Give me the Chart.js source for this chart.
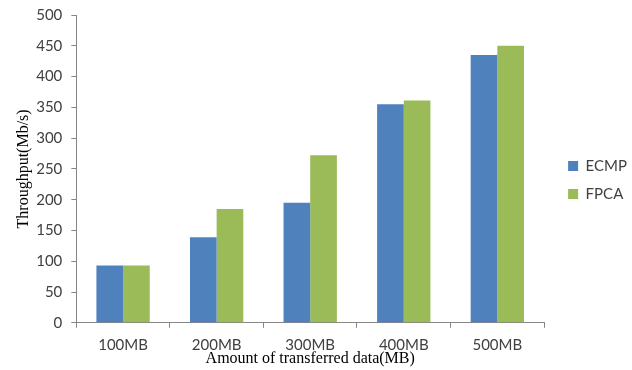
<!DOCTYPE html>
<html>
<head>
<meta charset="utf-8">
<script src="https://cdn.jsdelivr.net/npm/chart.js@4"></script>
<style>
  html, body { margin: 0; padding: 0; background: #fff; }
  #wrap { width: 632px; height: 370px; }
</style>
</head>
<body>
<div id="wrap"><canvas id="grafica"></canvas></div>
<script>
const categorias = ['100MB', '200MB', '300MB', '400MB', '500MB'];
const valoresECMP = [93, 139, 195, 355, 435];
const valoresFPCA = [93, 185, 272, 361, 450];
const marcasY = [0, 50, 100, 150, 200, 250, 300, 350, 400, 450, 500];

const azul = '#4f81bd';
const verde = '#9bbb59';
const gris = '#868686';

// la leyenda queda un poco separada del area de la grafica
const moverLeyenda = {
    id: 'moverLeyenda',
    afterLayout(chart) {
        const ley = chart.legend;
        ley.left += 11;
        ley.right += 11;
        ley.top -= 4;
        ley.bottom -= 4;
    }
};

function crearGrafica() {
    const ctx = document.getElementById('grafica').getContext('2d');

    new Chart(ctx, {
        type: 'bar',
        data: {
            labels: categorias,
            datasets: [
                { label: 'ECMP', data: valoresECMP, backgroundColor: azul },
                { label: 'FPCA', data: valoresFPCA, backgroundColor: verde }
            ]
        },
        options: {
            responsive: true,
            maintainAspectRatio: false,
            animation: false,
            layout: { padding: { left: 5, top: 0, right: 6, bottom: 2 } },
            datasets: { bar: { categoryPercentage: 0.57, barPercentage: 1.0 } },
            scales: {
                x: {
                    grid: { drawOnChartArea: false, drawTicks: true, tickLength: 5, color: gris },
                    border: { color: gris },
                    ticks: { color: '#404040', font: { family: 'Lato', size: 15 }, padding: 8 },
                    title: {
                        display: true,
                        text: 'Amount of transferred data(MB)',
                        color: '#000',
                        font: { family: 'Liberation Serif', size: 16 },
                        padding: { top: -13, bottom: 0 }
                    }
                },
                y: {
                    min: 0,
                    max: 500,
                    afterBuildTicks: escala => { escala.ticks = marcasY.map(v => ({ value: v })); },
                    grid: { drawOnChartArea: false, drawTicks: true, tickLength: 5, color: gris },
                    border: { color: gris },
                    ticks: { color: '#404040', font: { family: 'Lato', size: 15, lineHeight: 0.8 }, padding: 9 },
                    title: {
                        display: true,
                        text: 'Throughput(Mb/s)',
                        color: '#000',
                        font: { family: 'Liberation Serif', size: 16 },
                        padding: { top: 9, bottom: -6 }
                    }
                }
            },
            plugins: {
                legend: {
                    position: 'right',
                    labels: {
                        boxWidth: 10,
                        boxHeight: 10,
                        color: '#404040',
                        font: { family: 'Lato', size: 15 },
                        padding: 13
                    }
                },
                tooltip: { enabled: false }
            }
        },
        plugins: [moverLeyenda]
    });
}

crearGrafica();
</script>
</body>
</html>
